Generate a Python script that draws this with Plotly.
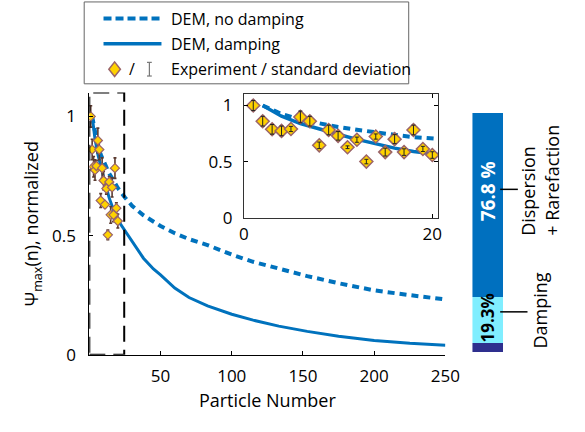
import plotly.graph_objects as go

# ---------------- data ----------------
particle_n = list(range(1, 21))
exp_psi = [1.00, 0.861, 0.789, 0.775, 0.792, 0.899, 0.861, 0.647, 0.783, 0.731,
           0.630, 0.697, 0.503, 0.725, 0.587, 0.702, 0.587, 0.783, 0.615, 0.561]
exp_std = [0.045, 0.043, 0.043, 0.043, 0.023, 0.052, 0.043, 0.029, 0.043, 0.038,
           0.012, 0.023, 0.020, 0.023, 0.035, 0.040, 0.029, 0.043, 0.023, 0.029]

model_n = [2, 4, 6, 8, 10, 12, 14, 16, 18, 20, 25, 30, 38, 45, 50, 60, 70, 83,
           100, 115, 133, 153, 175, 200, 225, 250]
psi_no_damping = [1.00, 0.925, 0.875, 0.84, 0.81, 0.785, 0.76, 0.74, 0.72, 0.70,
                  0.66, 0.625, 0.585, 0.56, 0.54, 0.51, 0.485, 0.46,
                  0.42, 0.39, 0.36, 0.33, 0.30, 0.27, 0.25, 0.232]
psi_damping = [1.00, 0.905, 0.84, 0.79, 0.745, 0.70, 0.657, 0.622, 0.592, 0.565,
               0.52, 0.478, 0.405, 0.36, 0.335, 0.28, 0.24, 0.205,
               0.17, 0.145, 0.12, 0.098, 0.078, 0.06, 0.048, 0.04]

share_names = ["Other", "Damping", "Dispersion + Rarefaction"]
share_values = [3.9, 19.3, 76.8]
share_colors = ["#2E2F8E", "#80EEFF", "#0070BF"]

main_xticks = [50, 100, 150, 200, 250]
y_ticks = [0, 0.5, 1]
y_ticktext = ["0", "0.5", "1"]
inset_xticks = [0, 20]

# ---------------- style ----------------
W, H = 585, 432
BLUE = "#0072BD"
FILL = "#FFD200"
EDGE = "#9B6468"
FONT = "Open Sans"


def fx(p):
    return p / W


def fy(p):
    return 1 - p / H


fig = go.Figure()

# main axes
fig.add_trace(go.Scatter(x=model_n, y=psi_no_damping, mode="lines", name="DEM, no damping",
                         line=dict(color=BLUE, width=4, dash="7px,5px"), xaxis="x", yaxis="y"))
fig.add_trace(go.Scatter(x=model_n, y=psi_damping, mode="lines", name="DEM, damping",
                         line=dict(color=BLUE, width=3), xaxis="x", yaxis="y"))
fig.add_trace(go.Scatter(x=particle_n, y=exp_psi, mode="markers", name="Experiment",
                         marker=dict(symbol="diamond", size=7, color=FILL,
                                     line=dict(color=EDGE, width=1.2)),
                         error_y=dict(type="data", array=exp_std, color="#5A3A30",
                                      thickness=1.6, width=1.5),
                         xaxis="x", yaxis="y"))

# inset axes
fig.add_trace(go.Scatter(x=model_n, y=psi_no_damping, mode="lines", showlegend=False,
                         line=dict(color=BLUE, width=4, dash="7px,5px"), xaxis="x2", yaxis="y2"))
fig.add_trace(go.Scatter(x=model_n, y=psi_damping, mode="lines", showlegend=False,
                         line=dict(color=BLUE, width=3.5), xaxis="x2", yaxis="y2"))
fig.add_trace(go.Scatter(x=particle_n, y=exp_psi, mode="markers", showlegend=False,
                         marker=dict(symbol="diamond", size=10, color=FILL,
                                     line=dict(color=EDGE, width=1.5)),
                         xaxis="x2", yaxis="y2"))
fig.add_trace(go.Scatter(x=particle_n, y=exp_psi, mode="markers", showlegend=False,
                         marker=dict(size=1, color="rgba(0,0,0,0)"),
                         error_y=dict(type="data", array=exp_std, color="#222222",
                                      thickness=1, width=2),
                         xaxis="x2", yaxis="y2"))

# stacked share bar
for name, val, col in zip(share_names, share_values, share_colors):
    fig.add_trace(go.Bar(x=[0], y=[val], name=name, marker=dict(color=col, line=dict(width=0)),
                         width=1, xaxis="x3", yaxis="y3", showlegend=False))

axis_common = dict(showgrid=False, zeroline=False, showline=True, linecolor="black",
                   linewidth=1, ticks="inside", ticklen=4, tickcolor="black",
                   tickfont=dict(family=FONT, size=17, color="black"))

fig.update_layout(
    width=W, height=H,
    margin=dict(l=0, r=0, t=0, b=0),
    paper_bgcolor="white", plot_bgcolor="white",
    showlegend=False,
    barmode="stack", bargap=0,
    font=dict(family=FONT, color="black"),
    xaxis=dict(domain=[fx(87.3), fx(456)], range=[0, 250], tickvals=main_xticks,
               anchor="y", ticklabelstandoff=6,
               title=dict(text="Particle Number", font=dict(family=FONT, size=18), standoff=8),
               **axis_common),
    yaxis=dict(domain=[fy(364), fy(95)], range=[0, 1.1], tickvals=y_ticks, ticktext=y_ticktext,
               anchor="x", ticklabelstandoff=9,
               title=dict(text="Ψ<sub>max</sub>(n), normalized", font=dict(family=FONT, size=18),
                          standoff=8),
               **axis_common),
    xaxis2=dict(domain=[fx(247.3), fx(448.3)], range=[0, 20.6], tickvals=inset_xticks,
                anchor="y2", mirror="ticks", ticklabelstandoff=0, **axis_common),
    yaxis2=dict(domain=[fy(224), fy(96.7)], range=[0, 1.1], tickvals=y_ticks, ticktext=y_ticktext,
                anchor="x2", mirror="ticks", ticklabelstandoff=7, **axis_common),
    xaxis3=dict(domain=[fx(484), fx(515.7)], range=[-0.5, 0.5], visible=False, anchor="y3"),
    yaxis3=dict(domain=[fy(361.7), fy(116)], range=[0, 100], visible=False, anchor="x3"),
)

for ax in ("xaxis2", "yaxis2"):
    fig.layout[ax].linecolor = "#333333"

shapes = []
# dashed zoom box on main axes
shapes.append(dict(type="rect", xref="x", yref="y", x0=0, x1=24.5, y0=0, y1=1.1,
                   line=dict(color="black", width=2, dash="16px,8px"), layer="above"))

# legend box
shapes.append(dict(type="rect", xref="paper", yref="paper", x0=fx(82), x1=fx(418),
                   y0=fy(86), y1=fy(2), line=dict(color="#666666", width=1),
                   fillcolor="white"))
shapes.append(dict(type="line", xref="paper", yref="paper", x0=fx(102), x1=fx(162),
                   y0=fy(19), y1=fy(19), line=dict(color=BLUE, width=4, dash="8px,4px")))
shapes.append(dict(type="line", xref="paper", yref="paper", x0=fx(102), x1=fx(162),
                   y0=fy(45), y1=fy(45), line=dict(color=BLUE, width=3.5)))
# legend diamond
cx, cy, hw, hh = 113.5, 71, 6, 7.5
shapes.append(dict(type="path", xref="paper", yref="paper",
                   path=f"M {fx(cx)},{fy(cy-hh)} L {fx(cx+hw)},{fy(cy)} L {fx(cx)},{fy(cy+hh)} "
                        f"L {fx(cx-hw)},{fy(cy)} Z",
                   fillcolor=FILL, line=dict(color=EDGE, width=1.5)))
# legend error-bar glyph
ix = 149.5
shapes.append(dict(type="line", xref="paper", yref="paper", x0=fx(ix), x1=fx(ix),
                   y0=fy(64), y1=fy(78), line=dict(color="#777777", width=1.2)))
for yy in (64, 78):
    shapes.append(dict(type="line", xref="paper", yref="paper", x0=fx(ix - 2.5), x1=fx(ix + 2.5),
                       y0=fy(yy), y1=fy(yy), line=dict(color="#777777", width=1.2)))

# bar label ticks
shapes.append(dict(type="line", xref="paper", yref="paper", x0=fx(512.7), x1=fx(531),
                   y0=fy(194.3), y1=fy(194.3), line=dict(color="black", width=1.5)))
shapes.append(dict(type="line", xref="paper", yref="paper", x0=fx(512.7), x1=fx(541),
                   y0=fy(320), y1=fy(320), line=dict(color="black", width=1.5)))

annotations = []
leg_texts = ["DEM, no damping", "DEM, damping", "Experiment / standard deviation"]
for t, yy in zip(leg_texts, (19, 45, 71)):
    annotations.append(dict(text=t, xref="paper", yref="paper", x=fx(170), y=fy(yy),
                            xanchor="left", yanchor="middle", showarrow=False,
                            font=dict(family=FONT, size=16, color="black")))
annotations.append(dict(text="/", xref="paper", yref="paper", x=fx(131.5), y=fy(71),
                        xanchor="center", yanchor="middle", showarrow=False,
                        font=dict(family=FONT, size=16, color="black")))

annotations.append(dict(text="<b>76.8 %</b>", xref="x3", yref="y3", x=0, y=67.2,
                        textangle=-90, showarrow=False, xanchor="center", yanchor="middle",
                        font=dict(family=FONT, size=19, color="white")))
annotations.append(dict(text="<b>19.3%</b>", xref="x3", yref="y3", x=0, y=14.5,
                        textangle=-90, showarrow=False, xanchor="center", yanchor="middle",
                        font=dict(family=FONT, size=17, color="black")))
annotations.append(dict(text="Dispersion<br>+ Rarefaction", xref="paper", yref="paper",
                        x=fx(554), y=fy(185.5), textangle=-90, align="left", showarrow=False,
                        xanchor="center", yanchor="middle",
                        font=dict(family=FONT, size=18, color="black")))
annotations.append(dict(text="Damping", xref="paper", yref="paper",
                        x=fx(553.5), y=fy(319), textangle=-90, showarrow=False,
                        xanchor="center", yanchor="middle",
                        font=dict(family=FONT, size=18, color="black")))

fig.update_layout(shapes=shapes, annotations=annotations)

fig.write_html("out.html")
